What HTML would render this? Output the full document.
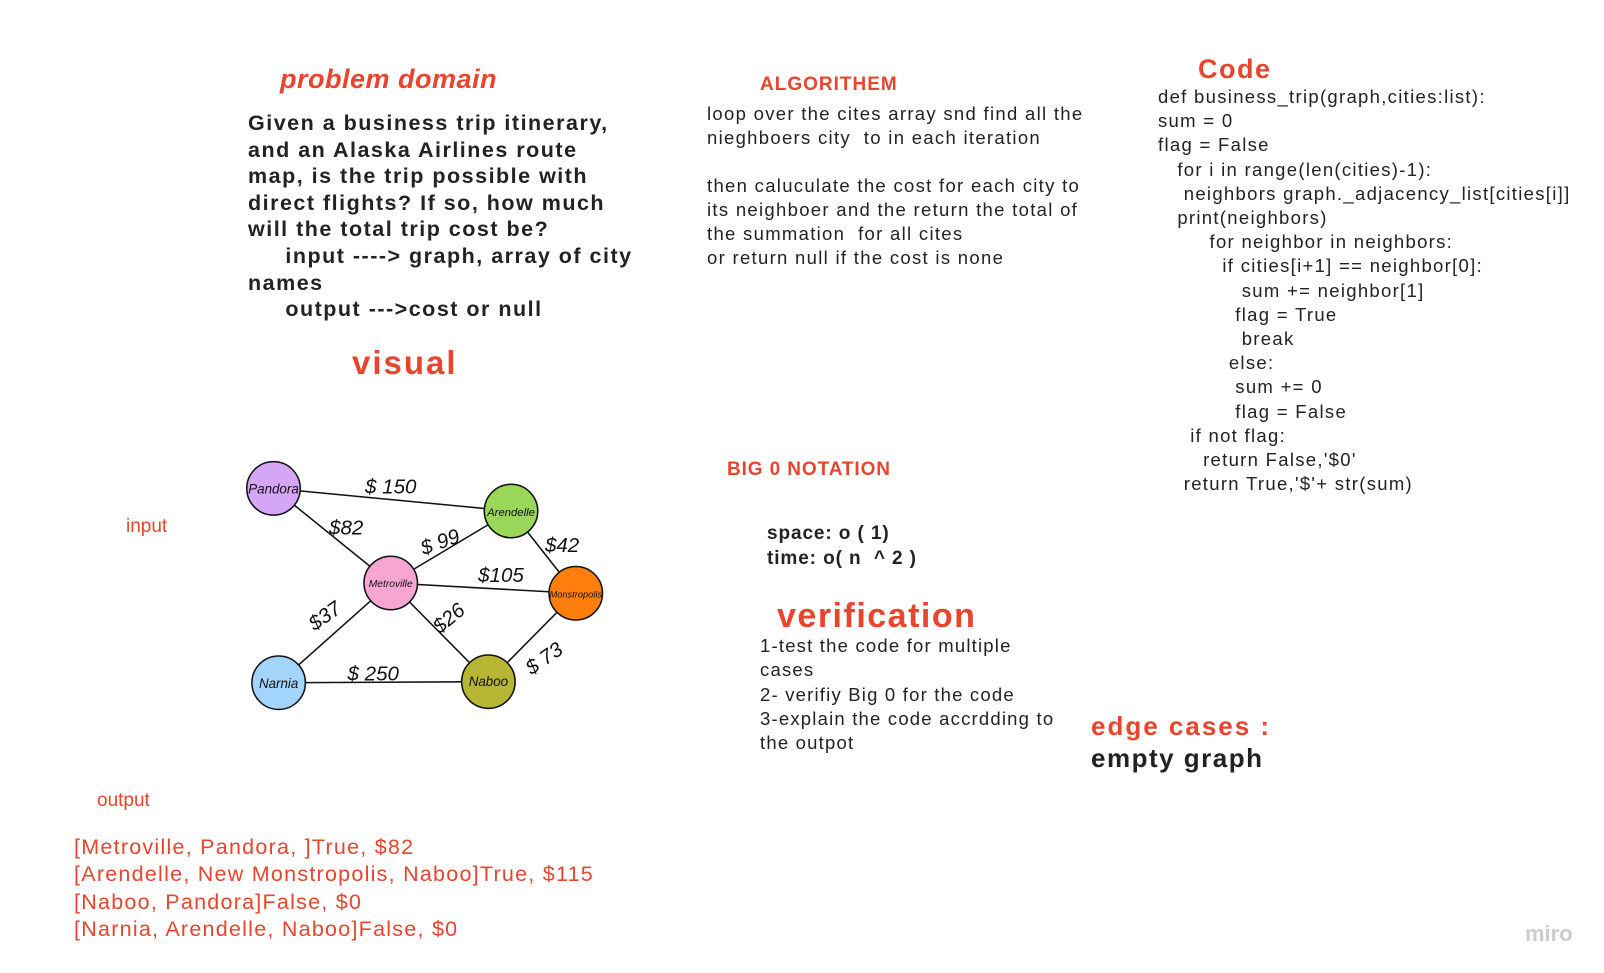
<!DOCTYPE html>
<html><head><meta charset="utf-8"><style>
body{margin:0;width:1604px;height:973px;background:#fff;position:relative;overflow:hidden;font-family:"Liberation Sans",Arial,sans-serif}
.a{position:absolute;white-space:pre;line-height:1}
.r{color:#e8452c}
</style></head><body>
<div class="a r" style="left:280px;top:66px;font-size:27px;font-weight:bold;font-style:italic;letter-spacing:0.5px">problem domain</div>
<div class="a" style="left:248px;top:110px;font-size:21.5px;font-weight:bold;line-height:26.6px;color:#222;letter-spacing:1.5px">Given a business trip itinerary,
and an Alaska Airlines route
map, is the trip possible with
direct flights? If so, how much
will the total trip cost be?
     input ----&gt; graph, array of city
names
     output ---&gt;cost or null</div>
<div class="a r" style="left:352px;top:346px;font-size:33px;font-weight:bold;letter-spacing:2px">visual</div>
<div class="a r" style="left:760px;top:75px;font-size:19px;font-weight:bold;letter-spacing:1px">ALGORITHEM</div>
<div class="a" style="left:707px;top:102px;font-size:18.5px;line-height:24px;color:#222;letter-spacing:1.3px">loop over the cites array snd find all the
nieghboers city  to in each iteration

then caluculate the cost for each city to
its neighboer and the return the total of
the summation  for all cites
or return null if the cost is none</div>
<div class="a r" style="left:1198px;top:56px;font-size:27px;font-weight:bold;letter-spacing:1.5px">Code</div>
<div class="a" style="left:1158px;top:85px;font-size:18.5px;line-height:24.2px;color:#222;letter-spacing:1.3px">def business_trip(graph,cities:list):
sum = 0
flag = False
   for i in range(len(cities)-1):
    neighbors graph._adjacency_list[cities[i]]
   print(neighbors)
        for neighbor in neighbors:
          if cities[i+1] == neighbor[0]:
             sum += neighbor[1]
            flag = True
             break
           else:
            sum += 0
            flag = False
     if not flag:
       return False,'$0'
    return True,'$'+ str(sum)</div>
<div class="a r" style="left:727px;top:460px;font-size:19px;font-weight:bold;letter-spacing:0.9px">BIG 0 NOTATION</div>
<div class="a" style="left:767px;top:521px;font-size:19px;font-weight:bold;line-height:25px;color:#222;letter-spacing:0.9px">space: o ( 1)
time: o( n  ^ 2 )</div>
<div class="a r" style="left:777px;top:599px;font-size:34px;font-weight:bold;letter-spacing:1.5px">verification</div>
<div class="a" style="left:760px;top:634px;font-size:18.5px;line-height:24.3px;color:#222;letter-spacing:1.2px">1-test the code for multiple
cases
2- verifiy Big 0 for the code
3-explain the code accrdding to
the outpot</div>
<div class="a r" style="left:1091px;top:713px;font-size:26px;font-weight:bold;letter-spacing:2px">edge cases :</div>
<div class="a" style="left:1091px;top:745px;font-size:26px;font-weight:bold;color:#222;letter-spacing:1.5px">empty graph</div>
<div class="a r" style="left:126px;top:517px;font-size:19px">input</div>
<div class="a r" style="left:97px;top:791px;font-size:19px">output</div>
<div class="a r" style="left:74px;top:834px;font-size:21.5px;line-height:27.4px;letter-spacing:1.25px">[Metroville, Pandora, ]True, $82
[Arendelle, New Monstropolis, Naboo]True, $115
[Naboo, Pandora]False, $0
[Narnia, Arendelle, Naboo]False, $0</div>
<div class="a" style="left:1525px;top:923px;font-size:22px;color:#ccc;font-weight:bold">miro</div>
<svg width="1604" height="973" style="position:absolute;left:0;top:0" font-family="Liberation Sans">
<g transform="scale(1.0282)">
<g stroke="#111" stroke-width="1.5">
<line x1="266" y1="475" x2="497" y2="497"/><line x1="266" y1="475" x2="380" y2="567"/>
<line x1="380" y1="567" x2="497" y2="497"/><line x1="497" y1="497" x2="560" y2="577"/>
<line x1="380" y1="567" x2="560" y2="577"/><line x1="380" y1="567" x2="271" y2="664"/>
<line x1="380" y1="567" x2="475" y2="663"/><line x1="271" y1="664" x2="475" y2="663"/>
<line x1="475" y1="663" x2="560" y2="577"/>
</g>
<g stroke="#111" stroke-width="1.5">
<circle cx="266" cy="475" r="26" fill="#d5a6f5"/><circle cx="497" cy="497" r="26" fill="#99d65a"/>
<circle cx="380" cy="567" r="26" fill="#f7a6d3"/><circle cx="560" cy="577" r="26" fill="#ff7f0e"/>
<circle cx="271" cy="664" r="26" fill="#a3d4fb"/><circle cx="475" cy="663" r="26" fill="#b6b634"/>
</g>
<g font-size="13" text-anchor="middle" fill="#111" font-style="italic">
<text x="266" y="480">Pandora</text><text x="497" y="502" font-size="11">Arendelle</text>
<text x="380" y="571" font-size="10">Metroville</text><text x="560" y="581" font-size="9">Monstropolis</text>
<text x="271" y="669">Narnia</text><text x="475" y="667">Naboo</text>
</g>
<g font-size="20" fill="#111" font-style="italic">
<text x="355" y="480">$ 150</text><text x="320" y="520">$82</text>
<text x="412" y="540" transform="rotate(-20 412 540)">$ 99</text><text x="530" y="537">$42</text>
<text x="465" y="566">$105</text><text x="306" y="614" transform="rotate(-35 306 614)">$37</text>
<text x="428" y="617" transform="rotate(-40 428 617)">$26</text><text x="338" y="662">$ 250</text>
<text x="517" y="657" transform="rotate(-35 517 657)">$ 73</text>
</g>
</g>
</svg>
</body></html>
